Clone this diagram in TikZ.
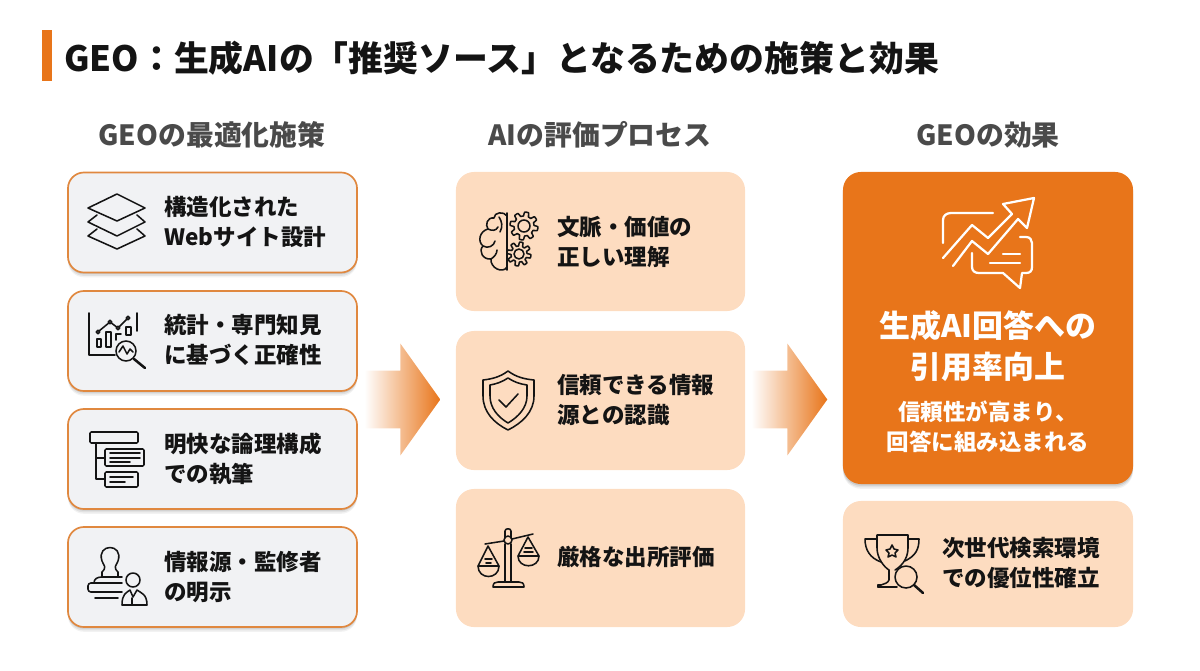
\documentclass[tikz,border=0pt]{standalone}
\usepackage{fontspec}
\setmainfont{Noto Sans CJK JP}
\usepackage{xcolor}
\usetikzlibrary{shadows,shapes.arrows}

\definecolor{geoorange}{HTML}{E8751A}
\definecolor{geopeach}{HTML}{FDDCC0}
\definecolor{geocard}{HTML}{F1F2F4}
\definecolor{geoedge}{HTML}{E0883F}
\definecolor{geohead}{HTML}{4A4A4A}
\definecolor{geoink}{HTML}{141414}

\tikzset{
  softshadow/.style={
    drop shadow={shadow xshift=0pt,shadow yshift=-3.4pt,opacity=.05,fill=black},
    drop shadow={shadow xshift=0pt,shadow yshift=-2.4pt,opacity=.07,fill=black},
    drop shadow={shadow xshift=0pt,shadow yshift=-1.2pt,opacity=.10,fill=black}},
  cardbox/.style={draw=geoedge,line width=1.2pt,fill=geocard,rounded corners=.4cm,minimum width=7.225cm,minimum height=2.5cm,inner sep=0,softshadow},
  peachbox/.style={fill=geopeach,rounded corners=.45cm,minimum width=7.225cm,inner sep=0},
  mainbox/.style={fill=geoorange,rounded corners=.45cm,minimum width=7.25cm,minimum height=7.8cm,inner sep=0,softshadow},
  flowarrow/.style={shape=single arrow,inner sep=0,minimum height=1.9cm,single arrow head extend=.675cm,single arrow tip angle=109,single arrow head indent=0cm,left color=white,right color=geoorange},
  headlabel/.style={font=\bfseries\fontsize{19.8}{24}\selectfont,text=geohead},
  itemlabel/.style={anchor=west,align=left,inner sep=0,text=geoink,font=\bfseries\fontsize{16}{21.3}\selectfont},
  icon/.style={draw=geoink,line width=1.1pt,line join=round,line cap=round},
  whiteicon/.style={draw=white,line width=1.6pt,line join=round,line cap=round}
}

% gear outline: centre x, centre y, radius
\newcommand{\gearicon}[3]{
  \draw[icon,shift={(#1,#2)}] plot[domain=0:360,samples=145] (\x:{#3+2*max(-1,min(1,2.5*sin(8*\x)))}) -- cycle;
  \draw[icon,shift={(#1,#2)}] (0,0) circle (#3*.5);
}

\begin{document}
\begin{tikzpicture}[x=.025cm,y=-.025cm]
\useasboundingbox (0,0) rectangle (1200,670);

% Title
\fill[geoorange] (42,30) rectangle (52,81);
\node[anchor=west,inner sep=0,font=\bfseries\fontsize{24.8}{30}\selectfont,text=geoink] (title) at (64,58) {GEO：生成AIの「推奨ソース」となるための施策と効果};

% Column headings
\node[headlabel] (headleft) at (212,135) {GEOの最適化施策};
\node[headlabel] (headmid) at (600,135) {AIの評価プロセス};
\node[headlabel] (headright) at (988,135) {GEOの効果};

% Left column
\node[cardbox] (card1) at (212.5,222.5) {};
\node[cardbox] (card2) at (212.5,341) {};
\node[cardbox] (card3) at (212.5,459) {};
\node[cardbox] (card4) at (212.5,577) {};
\node[itemlabel] (text1) at (164,222) {構造化された\\Webサイト設計};
\node[itemlabel] (text2) at (164,340) {統計・専門知見\\に基づく正確性};
\node[itemlabel] (text3) at (164,459) {明快な論理構成\\での執筆};
\node[itemlabel] (text4) at (164,577) {情報源・監修者\\の明示};

% Middle column
\node[peachbox,minimum height=3.475cm] (step1) at (600.5,241.5) {};
\node[peachbox,minimum height=3.475cm] (step2) at (600.5,400.5) {};
\node[peachbox,minimum height=3.45cm] (step3) at (600.5,558) {};
\node[itemlabel] (steptext1) at (557,242) {文脈・価値の\\正しい理解};
\node[itemlabel] (steptext2) at (557,400) {信頼できる情報\\源との認識};
\node[itemlabel] (steptext3) at (557,557) {厳格な出所評価};

% Right column
\node[mainbox] (result) at (988,328) {};
\node[peachbox,minimum width=7.25cm,minimum height=3.15cm] (extra) at (988,564) {};
\node[anchor=center,align=center,inner sep=0,text=white,font=\bfseries\fontsize{22}{29}\selectfont] (resulttext) at (988,346) {生成AI回答への\\引用率向上};
\node[anchor=center,align=center,inner sep=0,text=white,font=\bfseries\fontsize{16}{21.3}\selectfont] (resultsub) at (988,427) {信頼性が高まり、\\回答に組み込まれる};
\node[itemlabel] (extratext) at (942,563) {次世代検索環境\\での優位性確立};

% Block arrows
\node[flowarrow] (flow1) at (392,399.5) {\rule{0pt}{1.425cm}};
\node[flowarrow] (flow2) at (779,399.5) {\rule{0pt}{1.425cm}};

% Icon: layers
\draw[icon] (88,208) -- (117,194) -- (145,208) -- (117,221) -- cycle;
\draw[icon] (97,215) -- (88,222) -- (117,236) -- (145,222) -- (137,215);
\draw[icon] (97,229) -- (88,236) -- (117,249) -- (145,236) -- (137,229);

% Icon: chart with magnifier
\draw[icon] (89,313) -- (89,355) -- (115,355);
\draw[icon] (137,313) -- (137,331);
\draw[icon] (97,339) rectangle (101,347);
\draw[icon] (106,332) rectangle (111,347);
\draw[icon] (116,334) -- (116,340);
\draw[icon] (121,334) -- (116,334);
\draw[icon] (126,327) rectangle (131,335);
\draw[icon] (99,331) -- (110,322) -- (118,328) -- (128,318);
\foreach \px/\py in {98/332, 110/322, 118/328, 128/318} {
  \draw[icon,fill=geocard] (\px,\py) circle (1.8);
}
\draw[icon,fill=geocard] (126,351) circle (10);
\draw[icon] (119,352) -- (123,346) -- (127,354) -- (130,349) -- (133,352);
\draw[icon,line width=1.8pt] (134,359) -- (145,368);

% Icon: hierarchy
\draw[icon,rounded corners=.8pt] (90,432) rectangle (138,443);
\draw[icon,rounded corners=.8pt] (105,449) rectangle (144,466);
\draw[icon,rounded corners=.8pt] (105,472) rectangle (138,487);
\draw[icon] (96,443) -- (96,479) -- (105,479);
\draw[icon] (96,458) -- (105,458);
\draw[icon] (110,453) -- (140,453);
\draw[icon] (110,458) -- (140,458);
\draw[icon] (110,462) -- (130,462);
\draw[icon] (110,477) -- (133,477);
\draw[icon] (110,482) -- (125,482);

% Icon: stamp and person
\draw[icon] (102,577) -- (102,572) .. controls (107,567) and (104,566) .. (102,561) .. controls (96,543) and (124,543) .. (118,561) .. controls (116,566) and (113,567) .. (118,572) -- (118,577);
\draw[icon] (94,583) .. controls (94,579) and (97,577) .. (102,577) -- (122,577);
\draw[icon,rounded corners=2pt] (122,592) -- (88,592) -- (88,583) -- (122,583);
\draw[icon] (95,598) -- (118,598);
\draw[icon] (133,580) circle (7);
\draw[icon,fill=geocard] (122,605) .. controls (122,594) and (126,593) .. (130,590) -- (133,597) -- (137,590) .. controls (141,593) and (147,594) .. (147,605) -- cycle;
\draw[icon] (132,598) -- (132,605);

% Icon: brain and gears
\draw[icon] (507,213) -- (507,270);
\draw[icon] (507,216) .. controls (504,211) and (494,212) .. (494,218) .. controls (487,217) and (485,225) .. (488,229) .. controls (480,231) and (477,241) .. (483,246) .. controls (478,251) and (483,260) .. (491,259) .. controls (490,268) and (503,274) .. (507,267);
\draw[icon] (488,229) .. controls (492,231) and (496,231) .. (498,227);
\draw[icon] (483,246) .. controls (488,249) and (494,246) .. (495,241);
\draw[icon] (491,259) .. controls (494,257) and (497,254) .. (497,250);
\draw[icon] (499,217) .. controls (502,222) and (503,226) .. (500,232);
\gearicon{524}{226}{12}
\gearicon{519}{254}{10}

% Icon: shield
\draw[icon] (508,371) .. controls (500,377) and (492,379) .. (483,380) -- (483,396) .. controls (483,412) and (494,423) .. (508,430) .. controls (522,423) and (534,412) .. (534,396) -- (534,380) .. controls (524,379) and (516,377) .. (508,371) -- cycle;
\draw[icon] (508,378) .. controls (502,382) and (496,384) .. (490,385) -- (490,396) .. controls (490,408) and (498,417) .. (508,423) .. controls (518,417) and (527,408) .. (527,396) -- (527,385) .. controls (520,384) and (514,382) .. (508,378) -- cycle;
\draw[icon] (499,400) -- (506,407) -- (518,394);

% Icon: scales
\draw[icon] (505,538) -- (505,531) .. controls (505,528) and (511,528) .. (511,531) -- (511,538);
\draw[icon] (505,544) -- (505,582);
\draw[icon] (511,544) -- (511,582);
\draw[icon] (508,540) circle (4);
\draw[icon] (485,544) -- (504,541);
\draw[icon] (512,539) -- (533,534);
\draw[icon] (493,587) .. controls (493,583) and (495,582) .. (498,582) -- (519,582) .. controls (522,582) and (524,583) .. (524,587) -- cycle;
\draw[icon] (478,566) -- (488,546) -- (499,566) -- cycle;
\draw[icon] (478,566) .. controls (478,580) and (499,580) .. (499,566);
\draw[icon] (485,559) -- (492,559);
\draw[icon] (486,563) -- (491,563);
\draw[icon] (518,556) -- (528,537) -- (539,556) -- cycle;
\draw[icon] (518,556) .. controls (518,569) and (539,569) .. (539,556);
\draw[icon] (525,548) -- (532,548);
\draw[icon] (524,552) -- (533,552);

% Icon: chat bubbles with rising arrow
\draw[whiteicon] (993,213) -- (951,213) .. controls (946,213) and (943,216) .. (943,220) -- (943,243);
\draw[whiteicon] (943,258) -- (972,225) -- (988,238) -- (1012,214) -- (1003,204) -- (1034,198) -- (1027,228) -- (1018,219) -- (988,254) -- (972,241) -- (953,266);
\draw[whiteicon] (1020,237) -- (1026,237) .. controls (1030,237) and (1032,240) .. (1032,243) -- (1032,267) .. controls (1032,271) and (1030,273) .. (1026,273) -- (1022,273) -- (1020,288) -- (1003,273) -- (979,273) .. controls (975,273) and (972,271) .. (972,267) -- (972,253);
\draw[whiteicon] (1003,254) -- (1020,254);
\draw[whiteicon] (990,263) -- (1020,263);

% Icon: trophy with magnifier
\draw[icon] (877,535) -- (908,535) -- (908,548) .. controls (908,560) and (900,567) .. (895,570);
\draw[icon] (877,535) -- (877,548) .. controls (877,558) and (884,567) .. (889,570) -- (889,580) .. controls (888,583) and (884,584) .. (881,585);
\draw[icon] (878,587) -- (897,587);
\draw[icon] (878,587) -- (878,585) -- (881,585);
\draw[icon] (877,539) -- (865,539) .. controls (865,550) and (870,558) .. (881,562);
\draw[icon] (908,539) -- (919,539) .. controls (919,550) and (915,556) .. (905,561);
\draw[icon] (892,545) -- (894,549) -- (898,550) -- (895,553) -- (896,557) -- (892,555) -- (888,557) -- (889,553) -- (886,550) -- (890,549) -- cycle;
\draw[icon,fill=geopeach] (906,577) circle (11);
\draw[icon,line width=1.8pt] (914,585) -- (923,593);

\end{tikzpicture}
\end{document}
